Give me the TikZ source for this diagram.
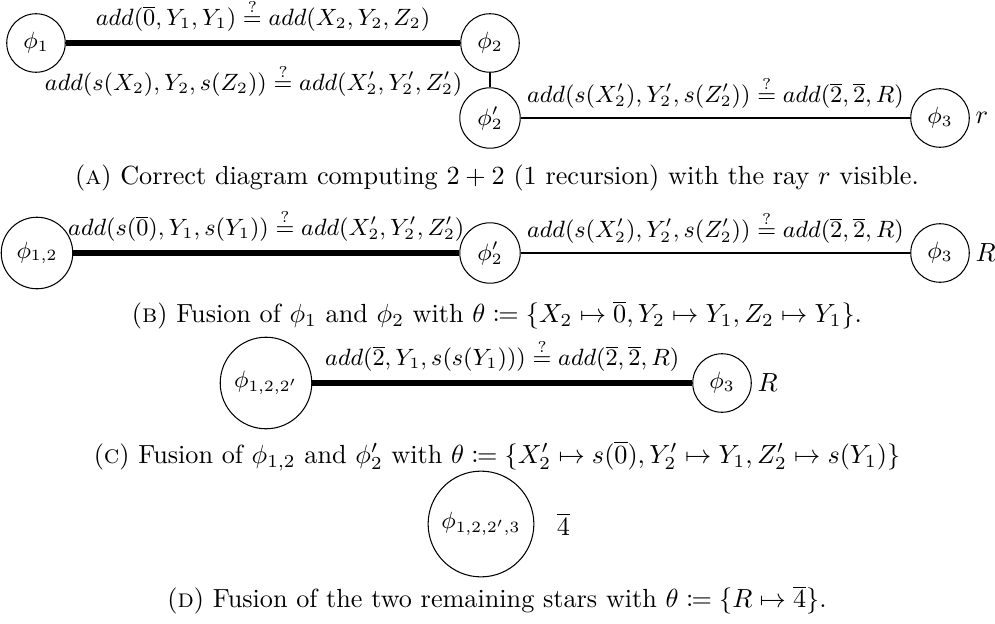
\documentclass[tikz,border=0pt]{standalone}
\usepackage{mathtools}
\usetikzlibrary{positioning}

\newcommand{\unifeq}{\stackrel{?}{=}}
\newcommand{\nat}[1]{\overline{#1}}

\begin{document}
\begin{tikzpicture}[x=0.3817pt, y=0.3817pt,
    star/.style={circle, draw, inner sep=3.5pt, font=\fontsize{8.6pt}{10pt}\selectfont},
    lbl/.style={font=\fontsize{8.6pt}{10pt}\selectfont},
    ray/.style={inner sep=2pt},
    fused/.style={line width=2pt},
    capt/.style={font=\normalsize}]
\useasboundingbox (0,0) rectangle (995,-623);
% (a) correct diagram
\node[star] (phiA1) at (36,-43) {$\phi_1$};
\node[star] (phiA2) at (490,-43) {$\phi_2$};
\node[star] (phiA2p) at (490,-118) {$\phi'_2$};
\node[star] (phiA3) at (940,-118) {$\phi_3$};
\node[ray, right=0pt of phiA3] (rayA) {$r$};
\draw[fused] (phiA1) -- (phiA2) node[midway, above, lbl] {$add(\nat{0},Y_1,Y_1) \unifeq add(X_2,Y_2,Z_2)$};
\draw (phiA2) -- (phiA2p) node[midway, left=7pt, lbl] {$add(s(X_2),Y_2,s(Z_2)) \unifeq add(X'_2,Y'_2,Z'_2)$};
\draw (phiA2p) -- (phiA3) node[midway, above, lbl] {$add(s(X'_2),Y'_2,s(Z'_2)) \unifeq add(\nat{2},\nat{2},R)$};
\node[capt] (capA) at (497,-178) {(\textsc{a}) Correct diagram computing $2+2$ (1 recursion) with the ray $r$ visible.};
% (b) first fusion
\node[star] (phiB12) at (37,-253) {$\phi_{1,2}$};
\node[star] (phiB2p) at (490,-253) {$\phi'_2$};
\node[star] (phiB3) at (940,-253) {$\phi_3$};
\node[ray, right=0pt of phiB3] (rayB) {$R$};
\draw[fused] (phiB12) -- (phiB2p) node[midway, above, lbl] {$add(s(\nat{0}),Y_1,s(Y_1)) \unifeq add(X'_2,Y'_2,Z'_2)$};
\draw (phiB2p) -- (phiB3) node[midway, above, lbl] {$add(s(X'_2),Y'_2,s(Z'_2)) \unifeq add(\nat{2},\nat{2},R)$};
\node[capt] (capB) at (497,-315) {(\textsc{b}) Fusion of $\phi_1$ and $\phi_2$ with $\theta \coloneqq \{X_2 \mapsto \nat{0}, Y_2 \mapsto Y_1, Z_2 \mapsto Y_1\}$.};
% (c) second fusion
\node[star] (phiC122) at (266,-383) {$\phi_{1,2,2'}$};
\node[star] (phiC3) at (722,-383) {$\phi_3$};
\node[ray, right=0pt of phiC3] (rayC) {$R$};
\draw[fused] (phiC122) -- (phiC3) node[midway, above, lbl] {$add(\nat{2},Y_1,s(s(Y_1))) \unifeq add(\nat{2},\nat{2},R)$};
\node[capt] (capC) at (497,-456) {(\textsc{c}) Fusion of $\phi_{1,2}$ and $\phi'_2$ with $\theta \coloneqq \{X'_2 \mapsto s(\nat{0}), Y'_2 \mapsto Y_1, Z'_2 \mapsto s(Y_1)\}$};
% (d) last fusion
\node[star] (phiD) at (481,-524) {$\phi_{1,2,2',3}$};
\node[right=5pt of phiD] (valD) {$\nat{4}$};
\node[capt] (capD) at (497,-600) {(\textsc{d}) Fusion of the two remaining stars with $\theta \coloneqq \{R \mapsto \nat{4}\}$.};
\end{tikzpicture}
\end{document}
